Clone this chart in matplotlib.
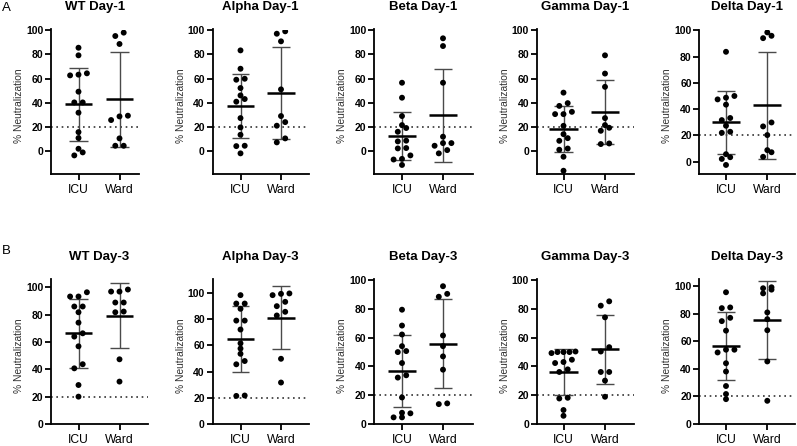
import numpy as np
import matplotlib
matplotlib.use('Agg')
import matplotlib.pyplot as plt

plt.rcParams['font.family'] = ['Liberation Sans', 'DejaVu Sans']

groups = ['ICU', 'Ward']
variants = ['WT', 'Alpha', 'Beta', 'Gamma', 'Delta']
days = ['Day-1', 'Day-3']
panel_letters = ['A', 'B']
threshold = 20

# ---- Day-1 data (% neutralization) ----
wt_d1_icu = [85.6, 79.3, 62.7, 63.3, 64.4, 49.2, 40.3, 40.3, 31.8, 15.7, 10.8, 1.9, -1.1, -3.6]
wt_d1_ward = [98.1, 95.3, 88.7, 29.3, 28.7, 25.7, 10.5, 4.4, 4.4]
alpha_d1_icu = [83.4, 68.2, 59.1, 59.9, 46.1, 52.2, 40.9, 43.1, 27.3, 19.6, 13.5, 4.4, 4.1, -1.9]
alpha_d1_ward = [97.2, 99.2, 90.9, 51.1, 29.0, 21.0, 24.0, 10.5, 7.2]
beta_d1_icu = [56.6, 44.2, 29.0, 21.5, 19.1, 16.0, 8.6, 8.0, 2.5, 2.2, -3.6, -6.5, -7.0, -11.5]
beta_d1_ward = [93.4, 87.0, 56.6, 11.9, 6.6, 6.6, 4.4, -1.9, 0.8]
gamma_d1_icu = [48.4, 37.4, 39.7, 30.6, 32.5, 30.6, 20.9, 14.0, 10.7, 8.5, 1.1, 2.1, -4.7, -16.3]
gamma_d1_ward = [79.3, 64.2, 53.2, 27.3, 21.5, 19.3, 16.8, 5.8, 6.3]
delta_d1_icu = [83.7, 47.4, 48.7, 50.0, 43.4, 33.2, 31.6, 27.3, 22.7, 21.9, 5.6, 2.0, 3.3, -2.6]
delta_d1_ward = [98.5, 94.1, 95.9, 26.8, 29.8, 20.2, 8.7, 7.1, 3.6]

# ---- Day-3 data (% neutralization) ----
wt_d3_icu = [96.3, 93.2, 93.2, 85.9, 85.9, 81.7, 74.1, 66.3, 63.9, 56.8, 43.7, 40.7, 28.5, 20.0]
wt_d3_ward = [96.8, 98.3, 96.8, 88.8, 88.8, 81.7, 82.2, 47.3, 31.0]
alpha_d3_icu = [98.2, 91.8, 91.8, 87.8, 78.8, 78.8, 72.0, 61.5, 57.5, 53.5, 45.5, 48.0, 21.4, 21.7]
alpha_d3_ward = [99.5, 98.2, 99.2, 93.1, 89.8, 85.5, 82.7, 49.7, 31.6]
beta_d3_icu = [79.3, 68.3, 62.1, 54.0, 50.6, 49.9, 42.3, 33.8, 32.2, 18.4, 7.4, 7.8, 4.6, 4.6]
beta_d3_ward = [95.6, 88.3, 90.3, 61.4, 54.0, 46.9, 37.7, 13.8, 14.3]
gamma_d3_icu = [49.9, 50.3, 49.2, 49.9, 49.9, 43.0, 42.3, 44.6, 36.1, 37.9, 17.7, 18.2, 9.7, 5.7]
gamma_d3_ward = [85.1, 82.1, 74.0, 53.3, 50.3, 36.1, 36.1, 30.1, 18.9]
delta_d3_icu = [95.4, 83.9, 84.4, 76.9, 74.5, 67.6, 53.8, 53.8, 51.8, 44.0, 38.0, 27.5, 21.7, 18.0]
delta_d3_ward = [98.3, 99.0, 97.3, 94.6, 80.8, 75.9, 67.9, 45.3, 16.8]

data = [
    [(wt_d1_icu, wt_d1_ward), (alpha_d1_icu, alpha_d1_ward), (beta_d1_icu, beta_d1_ward),
     (gamma_d1_icu, gamma_d1_ward), (delta_d1_icu, delta_d1_ward)],
    [(wt_d3_icu, wt_d3_ward), (alpha_d3_icu, alpha_d3_ward), (beta_d3_icu, beta_d3_ward),
     (gamma_d3_icu, gamma_d3_ward), (delta_d3_icu, delta_d3_ward)],
]

ylims = [
    [(-19, 100.7), (-19, 100.7), (-19, 100.7), (-19, 100.7), (-9.5, 100.7)],
    [(0, 106), (0, 110.5), (0, 100.6), (0, 100.6), (0, 105)],
]

# ---- layout (pixels) ----
W, H = 797, 446
fig = plt.figure(figsize=(W / 100, H / 100), dpi=100)

# left spine px, ICU px, Ward px, right end px
cols = [(51, 78.5, 119.5, 148), (212.5, 240.5, 281, 308.5), (374, 402, 443, 472.5),
        (536.7, 563.5, 605, 634), (699.3, 726, 767.3, 795)]
rows = [(29.5, 174), (279, 424)]  # top px, bottom px
title_y = [7, 257]


def swarm_offsets(vals, ppu_y, ppu_x):
    vals = np.asarray(vals, dtype=float)
    order = np.argsort(vals, kind='stable')
    v = vals[order]
    bin_u = 4.6 / ppu_y
    offs = np.zeros(len(v))
    i = 0
    while i < len(v):
        j = i
        while j + 1 < len(v) and v[j + 1] - v[i] < bin_u:
            j += 1
        n = j - i + 1
        sp = min(8.4, 24.0 / (n - 1)) if n > 1 else 0.0
        for k in range(n):
            offs[i + k] = (k - (n - 1) / 2) * sp / ppu_x
        i = j + 1
    out = np.zeros(len(v))
    out[order] = offs
    return out


for r in range(2):
    top_px, bot_px = rows[r]
    for c in range(5):
        L, c0, c1, R = cols[c]
        if r == 0 and c == 0:
            R = 139
        ax = fig.add_axes([L / W, 1 - bot_px / H, (R - L) / W, (bot_px - top_px) / H])
        ppu_x = c1 - c0
        ax.set_xlim((L - c0) / ppu_x, (R - c0) / ppu_x)
        y0, y1 = ylims[r][c]
        ax.set_ylim(y0, y1)
        ppu_y = (bot_px - top_px) / (y1 - y0)

        ax.axhline(threshold, color='#333333', lw=1.2, ls=(0, (1, 2.2)), zorder=1)

        for g in range(2):
            vals = np.asarray(data[r][c][g], dtype=float)
            xo = swarm_offsets(vals, ppu_y, ppu_x)
            ax.scatter(g + xo, vals, s=18, color='black', edgecolors='none', zorder=3)
            m = vals.mean()
            sd = vals.std(ddof=1)
            ax.vlines(g, m - sd, m + sd, color='#4a4a4a', lw=1.0, zorder=2)
            ax.hlines([m - sd, m + sd], g - 0.22, g + 0.22, color='#4a4a4a', lw=1.0, zorder=2)
            ax.hlines(m, g - 0.34, g + 0.34, color='black', lw=1.8, zorder=4)

        for s in ['top', 'right']:
            ax.spines[s].set_visible(False)
        for s in ['left', 'bottom']:
            ax.spines[s].set_linewidth(1.3)
        ax.set_yticks([0, 20, 40, 60, 80, 100])
        ax.set_xticks([0, 1])
        ax.set_xticklabels(groups, fontsize=8.7)
        ax.tick_params(axis='y', length=4, width=1.3, pad=1.5, labelsize=7.5)
        ax.tick_params(axis='x', length=4, width=1.3, pad=3)
        for lab in ax.get_yticklabels():
            lab.set_fontweight('bold')
        ax.set_ylabel('% Neutralization', fontsize=7.4, color='#333333')
        ax.yaxis.set_label_coords(-27.0 / (R - L), 0.47)

        fig.text(((L + R) / 2) / W, 1 - title_y[r] / H, f'{variants[c]} {days[r]}',
                 ha='center', va='center', fontsize=9.5, fontweight='bold')

fig.text(6 / W, 1 - 8 / H, panel_letters[0], ha='center', va='center', fontsize=9.5)
fig.text(6 / W, 1 - 251 / H, panel_letters[1], ha='center', va='center', fontsize=9.5)

fig.savefig('out.png', dpi=100)
